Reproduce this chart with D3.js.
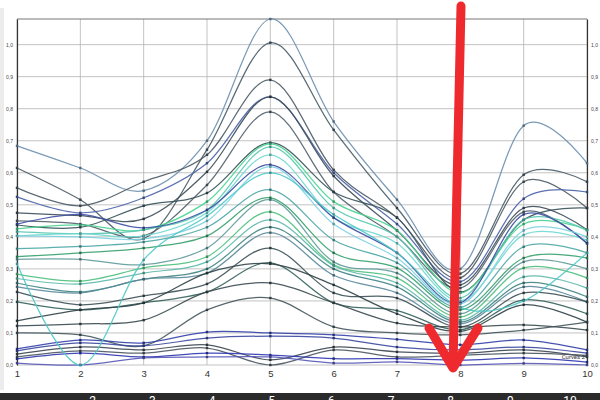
<!DOCTYPE html>
<html>
<head>
<meta charset="utf-8">
<script src="https://cdn.jsdelivr.net/npm/d3@7"></script>
<style>
  body { margin: 0; background: #fff; }
  svg { display: block; font-family: Roboto, "DejaVu Sans", sans-serif; }
</style>
</head>
<body>
<svg width="600" height="400"></svg>
<script>
// x positions and y ticks
var xValues = [1, 2, 3, 4, 5, 6, 7, 8, 9, 10];
var yTicks = [0, 0.1, 0.2, 0.3, 0.4, 0.5, 0.6, 0.7, 0.8, 0.9, 1.0];
var bandLabels = [2, 3, 4, 5, 6, 7, 8, 9, 10];

// curves, values at x = 1..10
var h1 = [0.684, 0.615, 0.544, 0.700, 1.080, 0.760, 0.516, 0.300, 0.747, 0.630];
var h2 = [0.615, 0.516, 0.394, 0.672, 1.006, 0.734, 0.490, 0.285, 0.594, 0.572];
var h3 = [0.553, 0.497, 0.572, 0.656, 0.890, 0.609, 0.460, 0.272, 0.572, 0.490];
var h4 = [0.525, 0.475, 0.522, 0.630, 0.837, 0.600, 0.440, 0.260, 0.519, 0.540];
var h5 = [0.475, 0.466, 0.456, 0.603, 0.837, 0.590, 0.420, 0.250, 0.490, 0.422];
var h6 = [0.450, 0.440, 0.403, 0.562, 0.790, 0.540, 0.400, 0.240, 0.478, 0.380];
var m1 = [0.437, 0.430, 0.497, 0.537, 0.694, 0.540, 0.460, 0.228, 0.453, 0.490];
var m2 = [0.425, 0.437, 0.422, 0.510, 0.690, 0.510, 0.420, 0.225, 0.440, 0.422];
var m3 = [0.416, 0.410, 0.422, 0.484, 0.681, 0.490, 0.400, 0.209, 0.453, 0.420];
var m4 = [0.403, 0.410, 0.403, 0.475, 0.656, 0.460, 0.380, 0.200, 0.406, 0.390];
var m5 = [0.440, 0.470, 0.428, 0.484, 0.625, 0.460, 0.350, 0.194, 0.470, 0.380];
var m6 = [0.403, 0.400, 0.394, 0.450, 0.619, 0.440, 0.334, 0.190, 0.420, 0.400];
var m7 = [0.363, 0.370, 0.384, 0.430, 0.547, 0.390, 0.319, 0.180, 0.369, 0.350];
var m8 = [0.338, 0.350, 0.365, 0.403, 0.522, 0.350, 0.303, 0.172, 0.334, 0.334];
var m9 = [0.330, 0.330, 0.313, 0.365, 0.516, 0.322, 0.287, 0.160, 0.322, 0.300];
var m10 = [0.284, 0.262, 0.303, 0.338, 0.478, 0.313, 0.272, 0.150, 0.303, 0.272];
var m11 = [0.270, 0.253, 0.287, 0.322, 0.453, 0.310, 0.256, 0.140, 0.275, 0.240];
var m12 = [0.256, 0.228, 0.268, 0.300, 0.430, 0.300, 0.244, 0.134, 0.256, 0.213];
var m13 = [0.244, 0.225, 0.268, 0.287, 0.413, 0.280, 0.225, 0.128, 0.244, 0.197];
var p1 = [0.228, 0.188, 0.216, 0.253, 0.365, 0.225, 0.209, 0.119, 0.225, 0.197];
var p2 = [0.197, 0.172, 0.194, 0.228, 0.319, 0.194, 0.170, 0.110, 0.203, 0.160];
var p3 = [0.138, 0.172, 0.194, 0.287, 0.316, 0.250, 0.160, 0.105, 0.188, 0.134];
var p4 = [0.122, 0.128, 0.140, 0.228, 0.256, 0.194, 0.131, 0.119, 0.125, 0.109];
var p5 = [0.100, 0.094, 0.060, 0.172, 0.209, 0.119, 0.100, 0.094, 0.109, 0.134];
var b1 = [0.050, 0.078, 0.069, 0.103, 0.100, 0.094, 0.080, 0.063, 0.078, 0.047];
var b2 = [0.044, 0.069, 0.060, 0.084, 0.090, 0.084, 0.056, 0.047, 0.056, 0.037];
var b3 = [0.034, 0.056, 0.047, 0.063, 0.016, 0.056, 0.041, 0.037, 0.047, 0.025];
var b4 = [0.025, 0.044, 0.037, 0.053, 0.000, 0.047, 0.025, 0.030, 0.037, 0.030];
var b5 = [0.019, 0.037, 0.025, 0.037, 0.031, 0.020, 0.020, 0.015, 0.022, 0.009];
var b6 = [0.006, 0.000, 0.022, 0.025, 0.025, 0.006, 0.010, 0.000, 0.005, 0.000];
var u1 = [0.316, 0.000, 0.328, 0.465, 0.600, 0.470, 0.350, 0.180, 0.200, 0.350];

var curves = [h1, h2, h3, h4, h5, h6, m1, m2, m3, m4, m5, m6, m7, m8, m9, m10,
    m11, m12, m13, p1, p2, p3, p4, p5, b1, b2, b3, b4, b5, b6, u1];
var colors = ["#6b8fae", "#465a66", "#4b5a63", "#4a62a8", "#3c4c58", "#52616b",
    "#35515a", "#46d48e", "#56c8b0", "#6fd8d0", "#3d4fa4", "#7cd2e0", "#4ea6a6",
    "#35a06c", "#5f9a9a", "#4cc07c", "#5ab8a8", "#3f8484", "#58879a",
    "#3c5057", "#33605a", "#2f4247", "#3a4a50", "#44565c",
    "#3340a8", "#3a48a0", "#3a4650", "#4a5560", "#2c36b0", "#5656b8", "#4ec8c8"];

var svg = d3.select("svg");
// plot edges (note: "top" would clash with window.top)
var plotL = 17, plotR = 587, plotT = 19, plotB = 365;

var x = d3.scaleLinear().domain([1, 10]).range([plotL, plotR]);
var y = d3.scaleLinear().domain([0, 1.08]).range([plotB, plotT]);
var comma = d => d3.format(".1f")(d).replace(".", ",");

// grey strip at the far left
svg.append("rect").attr("x", 0).attr("y", 8).attr("width", 4).attr("height", 382)
    .attr("fill", "#ececec");

// grid
var grid = svg.append("g").attr("stroke", "#b4b4b4").attr("stroke-width", 0.8);
grid.selectAll(".h").data(yTicks).enter().append("line")
    .attr("x1", plotL).attr("x2", plotR)
    .attr("y1", d => y(d)).attr("y2", d => y(d));
grid.selectAll(".v").data(xValues).enter().append("line")
    .attr("x1", d => x(d)).attr("x2", d => x(d))
    .attr("y1", plotT).attr("y2", plotB);
svg.append("line").attr("x1", plotL).attr("x2", plotR).attr("y1", plotT).attr("y2", plotT)
    .attr("stroke", "#777").attr("stroke-width", 1);

// axes
var yLeft = d3.axisLeft(y).tickValues(yTicks).tickSize(0).tickPadding(4).tickFormat(comma);
var yRight = d3.axisRight(y).tickValues(yTicks).tickSize(0).tickPadding(4).tickFormat(comma);
var xAxis = d3.axisBottom(x).tickValues(xValues).tickSize(0).tickPadding(5).tickFormat(d3.format("d"));

svg.append("g").attr("transform", "translate(" + plotL + ",0)").call(yLeft)
    .call(g => g.select(".domain").attr("stroke", "#333").attr("stroke-width", 1.2))
    .selectAll("text").attr("font-size", 5).attr("fill", "#444");
svg.append("g").attr("transform", "translate(" + plotR + ",0)").call(yRight)
    .call(g => g.select(".domain").attr("stroke", "#333").attr("stroke-width", 1.2))
    .selectAll("text").attr("font-size", 5).attr("fill", "#444");
svg.append("g").attr("transform", "translate(0," + plotB + ")").call(xAxis)
    .call(g => g.select(".domain").remove())
    .selectAll("text").attr("font-size", 9.5).attr("fill", "#333");

// curves
var line = d3.line()
    .x((d, i) => x(xValues[i]))
    .y(d => y(d))
    .curve(d3.curveCardinal.tension(0));

svg.append("g").attr("fill", "none")
    .selectAll("path").data(curves).enter().append("path")
    .attr("d", line)
    .attr("stroke", (d, i) => colors[i])
    .attr("stroke-width", 1.25)
    .attr("stroke-opacity", 0.9);

// markers
var dots = svg.append("g").selectAll("g").data(curves).enter().append("g")
    .attr("fill", (d, i) => d3.color(colors[i]).darker(0.9));
dots.selectAll("rect").data(d => d).enter().append("rect")
    .attr("x", (d, i) => x(xValues[i]) - 1.2)
    .attr("y", d => y(d) - 1.2)
    .attr("width", 2.4).attr("height", 2.4);

svg.append("text").attr("x", plotR - 2).attr("y", y(b4[9]) + 4)
    .attr("text-anchor", "end").attr("font-size", 6).attr("fill", "#333")
    .text("Curves 2");

// dark band at the bottom with cut-off labels
var band = d3.scaleLinear().domain([1, 10]).range([33, 570]);
svg.append("rect").attr("x", 0).attr("y", 393).attr("width", 600).attr("height", 7)
    .attr("fill", "#2b2b2b");
svg.append("g").selectAll("text").data(bandLabels).enter().append("text")
    .attr("x", d => band(d)).attr("y", 405)
    .attr("text-anchor", "middle").attr("font-size", 12).attr("fill", "#fff")
    .text(d => d);

// red arrow annotation
var arrow = svg.append("g").attr("fill", "none").attr("stroke", "#ef2a2e")
    .attr("stroke-width", 9).attr("stroke-linecap", "round").attr("stroke-linejoin", "round");
arrow.append("path").attr("d", "M461,6 L453,366");
arrow.append("path").attr("d", "M429,328 L453,368 L478,328");
</script>
</body>
</html>
